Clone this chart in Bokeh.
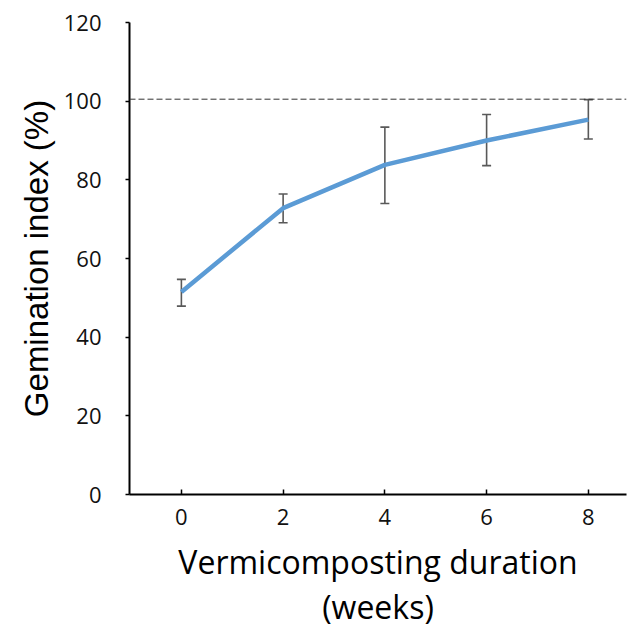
from bokeh.plotting import figure
from bokeh.models import Range1d, Span, FixedTicker, ColumnDataSource
from bokeh.embed import file_html
from bokeh.resources import INLINE

weeks = [0, 2, 4, 6, 8]
gi_mean = [51.5, 72.8, 83.8, 90.0, 95.3]
gi_upper = [54.7, 76.4, 93.4, 96.6, 100.4]
gi_lower = [47.9, 69.1, 74.0, 83.6, 90.4]
reference_level = 100.5
y_ticks = [0, 20, 40, 60, 80, 100, 120]

src = ColumnDataSource(dict(x=weeks, y=gi_mean, up=gi_upper, lo=gi_lower))

p = figure(width=628, height=630, output_backend="svg", toolbar_location=None,
           x_range=Range1d(-1.02, 8.75), y_range=Range1d(0, 120),
           min_border_left=129, min_border_right=2, min_border_top=22, min_border_bottom=136)
p.outline_line_color = None
p.xgrid.visible = False
p.ygrid.visible = False
p.background_fill_color = "white"
p.border_fill_color = "white"

p.add_layout(Span(location=reference_level, dimension="width", line_color="#333333",
                  line_width=1, line_dash="6 3"))

p.segment(x0="x", y0="lo", x1="x", y1="up", source=src, line_color="#595959", line_width=1.6)
p.dash(x="x", y="up", source=src, size=9, line_color="#595959", line_width=1.6)
p.dash(x="x", y="lo", source=src, size=9, line_color="#595959", line_width=1.6)
p.line(x="x", y="y", source=src, line_color="#5B9BD5", line_width=4.5)

p.xaxis.ticker = FixedTicker(ticks=weeks)
p.yaxis.ticker = FixedTicker(ticks=y_ticks)
for ax in (p.xaxis[0], p.yaxis[0]):
    ax.axis_line_color = "black"
    ax.axis_line_width = 2
    ax.major_tick_line_color = "black"
    ax.major_tick_line_width = 1.5
    ax.minor_tick_line_color = None
    ax.major_label_text_font = "Open Sans"
    ax.major_label_text_font_size = "22px"
    ax.major_label_text_color = "#111111"
p.xaxis.major_tick_in = 5
p.xaxis.major_tick_out = 0
p.xaxis.major_label_standoff = 14
p.yaxis.major_tick_in = 0
p.yaxis.major_tick_out = 4
p.yaxis.major_label_standoff = 24

p.xaxis.axis_label = "Vermicomposting duration\n(weeks)"
p.xaxis.axis_label_text_font = "Open Sans"
p.xaxis.axis_label_text_font_style = "normal"
p.xaxis.axis_label_text_font_size = "32px"
p.xaxis.axis_label_text_color = "black"
p.xaxis.axis_label_text_line_height = 1.05
p.xaxis.axis_label_standoff = 12
p.yaxis.axis_label = "Gemination index (%)"
p.yaxis.axis_label_text_font = "Liberation Sans"
p.yaxis.axis_label_text_font_style = "normal"
p.yaxis.axis_label_text_font_size = "33px"
p.yaxis.axis_label_text_color = "black"
p.yaxis.axis_label_standoff = 6

open("out.html", "w").write(file_html(p, INLINE))
